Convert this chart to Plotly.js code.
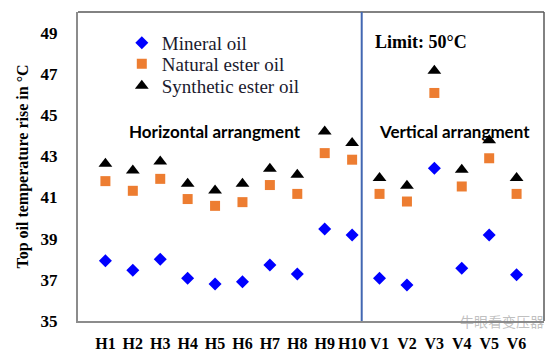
<!DOCTYPE html>
<html>
<head>
<meta charset="utf-8">
<script src="https://cdn.plot.ly/plotly-3.0.1.min.js"></script>
<style>html,body{margin:0;padding:0;background:#fff;}#chart{width:558px;height:354px;}</style>
</head>
<body>
<div id="chart"></div>
<script>
const categories = ["H1","H2","H3","H4","H5","H6","H7","H8","H9","H10","V1","V2","V3","V4","V5","V6"];
const mineralOil = [37.93,37.46,38.00,37.08,36.80,36.90,37.72,37.28,39.46,39.18,37.08,36.75,42.42,37.56,39.18,37.24];
const naturalEster = [41.79,41.32,41.90,40.92,40.59,40.77,41.60,41.17,43.15,42.83,41.17,40.80,46.07,41.53,42.90,41.17];
const syntheticEster = [42.63,42.31,42.74,41.66,41.33,41.66,42.39,42.10,44.20,43.64,41.94,41.56,47.15,42.34,43.77,41.94];
const yTicks = [35,37,39,41,43,45,47,49];

const xIdx = categories.map((c,i)=>i);
const serif = "Liberation Serif";
const legFont = {family:serif, size:19, color:"#1a1a2e"};

const traces = [
  {x:xIdx, y:mineralOil, name:"Mineral oil", type:"scatter", mode:"markers", legend:"legend",
   marker:{symbol:"diamond", color:"#0000FF", size:10}},
  {x:xIdx, y:naturalEster, name:"Natural ester oil", type:"scatter", mode:"markers", legend:"legend2",
   marker:{symbol:"square", color:"#ED7D31", size:10}},
  {x:xIdx, y:syntheticEster, name:"Synthetic ester oil", type:"scatter", mode:"markers", legend:"legend3",
   marker:{symbol:"triangle-up", color:"#000000", size:12}}
];

function leg(y){
  return {x:0.094, y:y, xanchor:"left", yanchor:"middle", bgcolor:"rgba(0,0,0,0)",
    font:legFont, itemwidth:30};
}

const layout = {
  width:558, height:354,
  margin:{l:78, r:14, t:12, b:33},
  paper_bgcolor:"#fff", plot_bgcolor:"#fff",
  font:{family:serif},
  showlegend:true,
  legend:leg(0.8997),
  legend2:leg(0.8317),
  legend3:leg(0.7605),
  xaxis:{range:[-1,16], tickvals:xIdx, ticktext:categories, showgrid:false, zeroline:false,
    showline:true, linecolor:"#8c8c8c", linewidth:2, ticks:"", ticklabelstandoff:7,
    tickfont:{family:serif, size:16, color:"#000", weight:"bold"}},
  yaxis:{range:[35,50], tickvals:yTicks, showgrid:false, zeroline:false,
    showline:true, linecolor:"#8c8c8c", linewidth:2, ticks:"", ticklabelstandoff:15,
    tickfont:{family:serif, size:17, color:"#000", weight:"bold"},
    title:{text:"Top oil temperature rise in °C", standoff:8,
      font:{family:serif, size:16, color:"#000", weight:"bold"}}},
  shapes:[
    {type:"line", xref:"paper", yref:"paper", x0:0, x1:1, y0:1, y1:1, line:{color:"#595959", width:1.5}},
    {type:"line", xref:"paper", yref:"paper", x0:1, x1:1, y0:0, y1:1, line:{color:"#595959", width:1.5}},
    {type:"line", xref:"x", yref:"paper", x0:9.35, x1:9.35, y0:0, y1:1, line:{color:"#4267B2", width:2}}
  ],
  annotations:[
    {x:4.0, y:44.19, xref:"x", yref:"y", text:"<b>Horizontal arrangment</b>", showarrow:false,
     font:{family:"Lato, Open Sans, sans-serif", size:17, color:"#000"}},
    {x:12.74, y:44.19, xref:"x", yref:"y", text:"<b>Vertical arrangment</b>", showarrow:false,
     font:{family:"Lato, Open Sans, sans-serif", size:17, color:"#000"}},
    {x:11.53, y:48.56, xref:"x", yref:"y", text:"<b>Limit: 50°C</b>", showarrow:false,
     font:{family:serif, size:18, color:"#000"}},
    {x:1.005, y:0.0, xref:"paper", yref:"paper", xanchor:"right", yanchor:"middle", text:"牛眼看变压器", showarrow:false,
     font:{family:"Noto Sans CJK SC", size:14, color:"rgba(130,130,130,0.5)"}}
  ]
};

Plotly.newPlot("chart", traces, layout, {displayModeBar:false, staticPlot:true});
</script>
</body>
</html>
